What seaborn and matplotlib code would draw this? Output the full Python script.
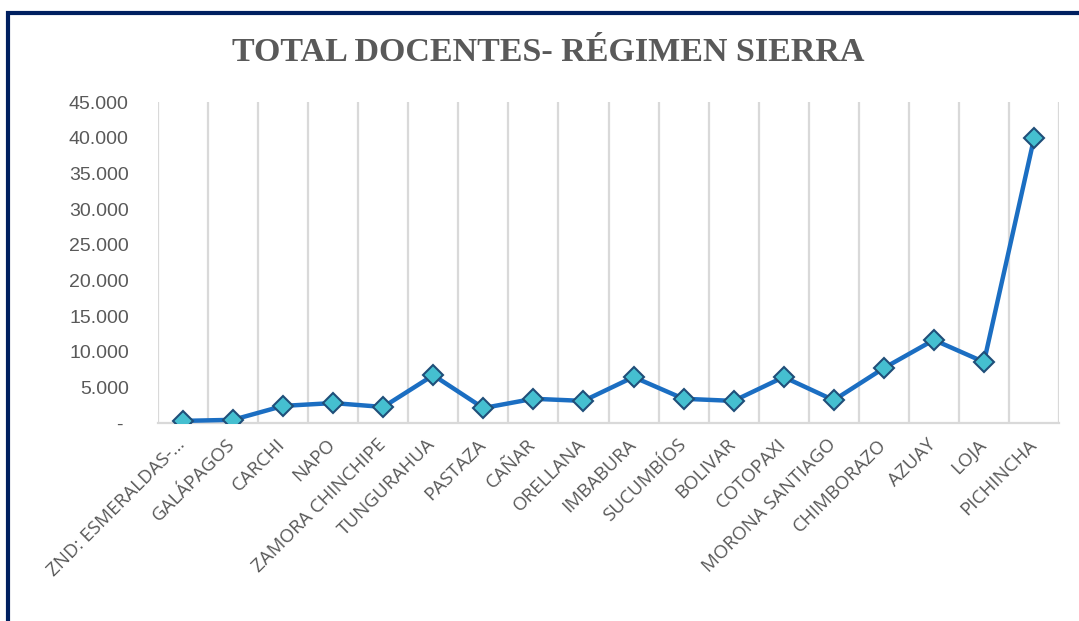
import matplotlib
matplotlib.use('Agg')
import matplotlib.pyplot as plt
import matplotlib.ticker as mticker
import matplotlib.transforms as mtransforms
from matplotlib.patches import Rectangle
import pandas as pd
import seaborn as sns

# datos
provincias = ['ZND: ESMERALDAS-…', 'GALÁPAGOS', 'CARCHI', 'NAPO', 'ZAMORA CHINCHIPE',
              'TUNGURAHUA', 'PASTAZA', 'CAÑAR', 'ORELLANA', 'IMBABURA', 'SUCUMBÍOS',
              'BOLIVAR', 'COTOPAXI', 'MORONA SANTIAGO', 'CHIMBORAZO', 'AZUAY', 'LOJA',
              'PICHINCHA']
docentes = [300, 450, 2400, 2800, 2250, 6700, 2100, 3400, 3100, 6450, 3400,
            3100, 6450, 3200, 7700, 11650, 8550, 39900]
y_ticks = [0, 5000, 10000, 15000, 20000, 25000, 30000, 35000, 40000, 45000]

df = pd.DataFrame({'pos': range(len(provincias)), 'docentes': docentes})

sns.set_style('white')
plt.rcParams['font.family'] = ['Open Sans', 'DejaVu Sans']

fig = plt.figure(figsize=(10.79, 6.21), dpi=100)
ax = fig.add_axes([0.1464, 0.3188, 0.8351, 0.5169])

sns.lineplot(data=df, x='pos', y='docentes', ax=ax, color='#1B6EC2', linewidth=3.2,
             marker='D', markersize=10, markerfacecolor='#45BFD0',
             markeredgecolor='#1F4E79', markeredgewidth=1.5, zorder=3)

ax.set_xlim(-0.5, len(provincias) - 0.5)
ax.set_ylim(0, 45000)
ax.set_yticks(y_ticks)
ax.yaxis.set_major_formatter(mticker.FuncFormatter(
    lambda v, p: '- ' if v == 0 else f'{int(v):,}'.replace(',', '.')))
ax.set_xticks(range(len(provincias)))
ax.set_xticklabels(provincias, rotation=45, ha='right', rotation_mode='anchor',
                   fontsize=13.5, color='#595959')
ax.tick_params(axis='x', length=0, pad=9)
ax.tick_params(axis='y', length=0, pad=21, labelsize=14, labelcolor='#595959')
for t in ax.get_yticklabels():
    t.set_family(['Liberation Sans', 'DejaVu Sans'])
shift = mtransforms.ScaledTranslation(-7 / 100, 0, fig.dpi_scale_trans)
for t in ax.get_xticklabels():
    t.set_transform(t.get_transform() + shift)

# lineas verticales entre categorias
ax.set_xticks([i - 0.5 for i in range(len(provincias) + 1)], minor=True)
ax.grid(False)
ax.grid(True, which='minor', axis='x', color='#D9D9D9', linewidth=1.6)
ax.tick_params(which='minor', length=0)
for s in ['top', 'left', 'right']:
    ax.spines[s].set_visible(False)
ax.spines['bottom'].set_color('#D9D9D9')
ax.spines['bottom'].set_linewidth(1.6)
ax.set_xlabel('')
ax.set_ylabel('')

fig.text(0.508, 0.916, 'TOTAL DOCENTES- RÉGIMEN SIERRA', ha='center', va='center',
         fontsize=24.5, fontweight='bold', color='#595959',
         family=['Liberation Serif', 'DejaVu Serif'])

# marco
fig.patches.append(Rectangle((8 / 1079, -0.1), 1.2, 1 - 13 / 621 + 0.1,
                             transform=fig.transFigure, fill=False,
                             edgecolor='#002060', linewidth=3, zorder=10))

fig.savefig('out.png', dpi=100)
